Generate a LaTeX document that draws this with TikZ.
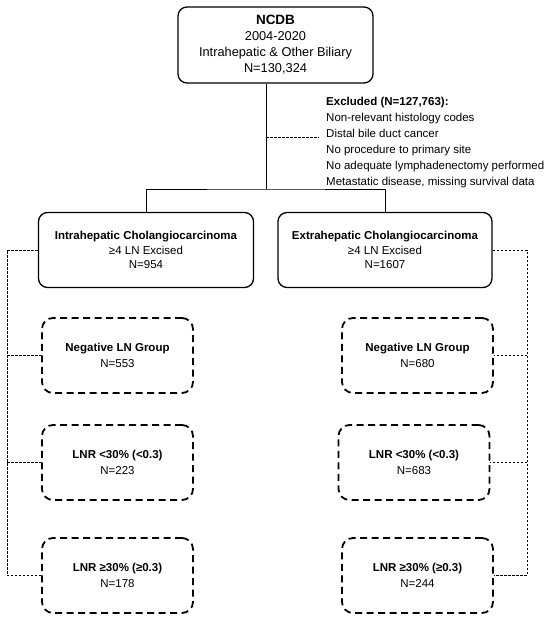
\documentclass[tikz,border=0pt]{standalone}
\usepackage{fontspec}
\setmainfont{Liberation Sans}
\tikzset{
	mainbox/.style={draw, line width=1.3pt, rounded corners=9pt, align=center, minimum height=76pt, inner sep=2pt, font=\fontsize{11.5}{14.5}\selectfont},
	groupbox/.style={draw, line width=1.8pt, dash pattern=on 7pt off 4.5pt, rounded corners=11pt, align=center, minimum width=151pt, minimum height=75pt, inner sep=2pt, font=\fontsize{11.5}{15.5}\selectfont},
	link/.style={line width=0.8pt},
	dotlink/.style={line width=0.7pt, dash pattern=on 2.5pt off 1.5pt}
}

\begin{document}
\begin{tikzpicture}[x=1pt, y=-1pt]
	\useasboundingbox (0,0) rectangle (550,624);
	\node[mainbox, minimum width=195pt, font=\fontsize{12.8}{16}\selectfont] (ncdb) at (275.5,45) {{\bfseries\fontsize{13.5}{16}\selectfont NCDB}\\2004-2020\\Intrahepatic \& Other Biliary\\N=130,324};
	\node[align=left, anchor=west, inner sep=2pt, font=\fontsize{11.5}{16}\selectfont] (excl) at (324,142.5) {\textbf{Excluded (N=127,763):}\\Non-relevant histology codes\\Distal bile duct cancer\\No procedure to primary site\\No adequate lymphadenectomy performed\\Metastatic disease, missing survival data};
	\node[mainbox, minimum width=215pt, minimum height=75pt] (ihc) at (146,250) {\textbf{Intrahepatic Cholangiocarcinoma}\\≥4 LN Excised\\N=954};
	\node[mainbox, minimum width=214pt, minimum height=75pt] (ehc) at (385,250) {\textbf{Extrahepatic Cholangiocarcinoma}\\≥4 LN Excised\\N=1607};
	\node[groupbox] (ineg) at (117.5,355.5) {\textbf{Negative LN Group}\\N=553};
	\node[groupbox] (ilow) at (117.5,462.5) {\textbf{LNR <30\% (<0.3)}\\N=223};
	\node[groupbox] (ihigh) at (117.5,575.5) {\textbf{LNR ≥30\% (≥0.3)}\\N=178};
	\node[groupbox] (eneg) at (417.5,355.5) {\textbf{Negative LN Group}\\N=680};
	\node[groupbox] (elow) at (414,462.5) {\textbf{LNR <30\% (<0.3)}\\N=683};
	\node[groupbox] (ehigh) at (417.5,575.5) {\textbf{LNR ≥30\% (≥0.3)}\\N=244};
	\coordinate (split) at (266,189);
	\coordinate (exclpt) at (266,137);
	\coordinate (lrail) at (7,0);
	\coordinate (rrail) at (527,0);
	\draw[link] (ncdb.south -| split) -- (split);
	\draw[link] (ihc.north) |- (split) -| (ehc.north);
	\draw[dotlink, shorten >=5pt] (exclpt) -- (exclpt -| excl.west);
	\draw[dotlink] (ihc.west) -| (lrail |- ihigh.west) -- (ihigh.west);
	\draw[dotlink] (lrail |- ineg.west) -- (ineg.west);
	\draw[dotlink] (lrail |- ilow.west) -- (ilow.west);
	\draw[dotlink] (ehc.east) -| (rrail |- ehigh.east) -- (ehigh.east);
	\draw[dotlink] (rrail |- eneg.east) -- (eneg.east);
	\draw[dotlink] (rrail |- elow.east) -- (elow.east);
\end{tikzpicture}
\end{document}
